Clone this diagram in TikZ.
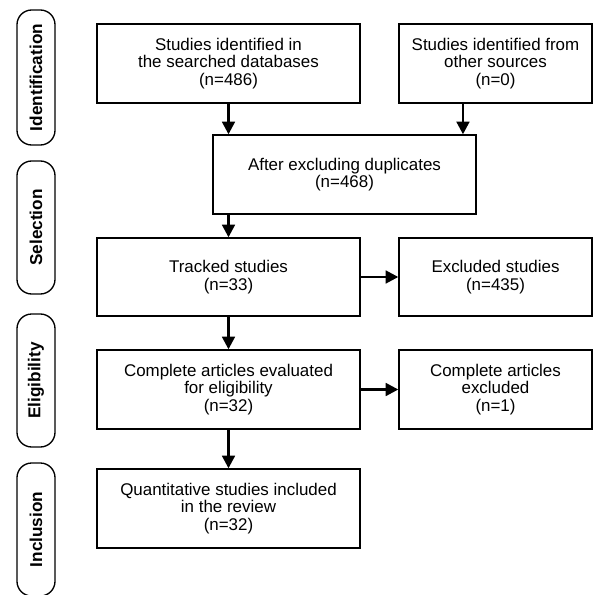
\documentclass[tikz,border=0pt]{standalone}
\usepackage{fontspec}
\setmainfont{Liberation Sans}
\usetikzlibrary{arrows.meta}
\begin{document}
\begin{tikzpicture}[x=0.75pt,y=-0.75pt,
  box/.style={draw=black, line width=1pt, inner sep=0pt, align=center,
    font=\fontsize{12.7}{13.2}\selectfont, minimum height=59.25pt},
  wbox/.style={box, minimum width=197.25pt},
  nbox/.style={box, minimum width=144.75pt},
  pill/.style={draw=black, line width=1pt, rounded corners=11pt, inner sep=0pt,
    minimum height=28.5pt, rotate=90,
    font=\fontsize{12.9}{13.2}\selectfont\bfseries},
  arr/.style={line width=2pt, -{Triangle[length=9.5pt,width=9.5pt]}}]
\useasboundingbox (0,0) rectangle (593,595);
% phase pills (rotated: width runs along the text)
\node[pill, minimum width=101.25pt] (pid) at (36,77.5) {Identification};
\node[pill, minimum width=99.75pt] (psel) at (36,227.5) {Selection};
\node[pill, minimum width=99.75pt] (pel) at (36,380.5) {Eligibility};
\node[pill, minimum width=99.75pt] (pin) at (36,529.5) {Inclusion};
% boxes
\node[wbox] (db) at (228.5,63.5) {Studies identified in\\the searched databases\\(n=486)};
\node[nbox] (other) at (495.5,63.5) {Studies identified from\\other sources\\(n=0)};
\node[wbox] (dedup) at (344.5,174.5) {After excluding duplicates\\(n=468)};
\node[wbox, minimum height=58.5pt] (tracked) at (228.5,277) {Tracked studies\\(n=33)};
\node[nbox, minimum height=58.5pt] (excl) at (495.5,277) {Excluded studies\\(n=435)};
\node[wbox] (complete) at (228.5,389.5) {Complete articles evaluated\\for eligibility\\(n=32)};
\node[nbox] (cexcl) at (495.5,389.5) {Complete articles\\excluded\\(n=1)};
\node[wbox] (quant) at (228.5,508.5) {Quantitative studies included\\in the review\\(n=32)};
% connectors
\coordinate (o1) at ([xshift=-24.4pt]other.south);
\draw[arr] (db.south) -- (db.south |- dedup.north);
\draw[arr] (o1) -- (o1 |- dedup.north);
\draw[arr] (tracked.north |- dedup.south) -- (tracked.north);
\draw[arr] (tracked.east) -- (excl.west);
\draw[arr] (tracked.south) -- (complete.north);
\draw[arr] (complete.east) -- (cexcl.west);
\draw[arr] (complete.south) -- (quant.north);
\end{tikzpicture}
\end{document}
